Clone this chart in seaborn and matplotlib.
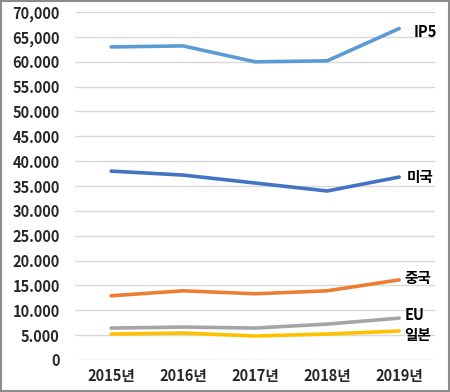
import pandas as pd
import matplotlib.pyplot as plt
import seaborn as sns
from matplotlib.patches import Rectangle


# Data
years = ["2015년", "2016년", "2017년", "2018년", "2019년"]
ip5 = [63000, 63200, 60000, 60200, 66700]
usa = [38000, 37200, 35600, 34000, 36800]
china = [12900, 13900, 13300, 13900, 16100]
eu = [6400, 6600, 6400, 7200, 8400]
japan = [5200, 5400, 4800, 5200, 5800]

series_names = ["IP5", "미국", "중국", "EU", "일본"]
series_values = [ip5, usa, china, eu, japan]
colors = ["#5B9BD5", "#4472C4", "#ED7D31", "#A5A5A5", "#FFC000"]
ytick_labels = ["0", "5.000", "10.000", "15.000", "20.000", "25.000", "30.000",
                "35.000", "40.000", "45.000", "50.000", "55.000", "60.000",
                "65,000", "70,000"]

rows = []
for name, vals in zip(series_names, series_values):
    for i, (yr, v) in enumerate(zip(years, vals)):
        rows.append({"year": yr, "pos": i, "series": name, "value": v})
df = pd.DataFrame(rows)


# Styling
sns.set_theme(style="white")
plt.rcParams["font.family"] = ["Noto Sans CJK KR", "DejaVu Sans"]
plt.rcParams["font.weight"] = "bold"

fig = plt.figure(figsize=(4.5, 3.92), dpi=100)
ax = fig.add_axes([0.167, 0.082, 0.8, 0.887])

sns.lineplot(data=df, x="pos", y="value", hue="series", palette=colors,
             hue_order=series_names, linewidth=2.6, legend=False, ax=ax)

ax.set_xlim(-0.5, 4.5)
ax.set_ylim(0, 70000)
ax.set_yticks(range(0, 70001, 5000))
ax.set_yticklabels(ytick_labels, fontsize=10.5, fontweight="bold")
ax.set_xticks(range(len(years)))
ax.set_xticklabels(years, fontsize=10.5, fontweight="bold")
ax.tick_params(axis="y", pad=11, length=0)
ax.tick_params(axis="x", pad=6, length=0)
ax.set_xlabel("")
ax.set_ylabel("")
ax.grid(axis="y", color="#D9D9D9", linewidth=1)
for s in ax.spines.values():
    s.set_visible(False)

# End labels
offsets = [(0.2, -700), (0.1, 0), (0.07, 400), (0.07, 700), (0.07, -800)]
for name, vals, (dx, dy) in zip(series_names, series_values, offsets):
    ax.text(4 + dx, vals[-1] + dy, name, fontsize=10.5, fontweight="bold",
            va="center", ha="left", color="black")

# Outer border
fig.patches.append(Rectangle((0.002, 0.002), 0.996, 0.996, transform=fig.transFigure,
                             fill=False, edgecolor="#8C8C8C", linewidth=1.5))

plt.savefig("out.png", dpi=100)
